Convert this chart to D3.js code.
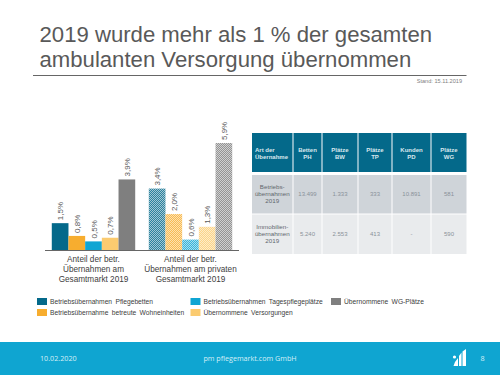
<!DOCTYPE html>
<html>
<head>
<meta charset="utf-8">
<script src="https://cdn.jsdelivr.net/npm/d3@7"></script>
<style>
html, body { margin: 0; padding: 0; background: #fff; }
svg { display: block; font-family: "Liberation Sans", Arial, sans-serif; }
</style>
</head>
<body>
<svg id="chart" width="500" height="375"></svg>
<script>
// chart values
var groupLabels = [
    ["Anteil der betr.", "Übernahmen am", "Gesamtmarkt 2019"],
    ["Anteil der betr.", "Übernahmen am privaten", "Gesamtmarkt 2019"]
];
var seriesNames = [
    "Betriebsübernahmen Pflegebetten",
    "Betriebsübernahme betreute Wohneinheiten",
    "Betriebsübernahmen Tagespflegeplätze",
    "Übernommene Versorgungen",
    "Übernommene WG-Plätze"
];
var gesamtValues = [1.5, 0.8, 0.5, 0.7, 3.9];
var privatValues = [3.4, 2.0, 0.6, 1.3, 5.9];
var seriesColors = ["#04698a", "#f7ad2f", "#0fa5d3", "#fbcb70", "#7f7f7f"];

// table
var tableHead = [["Art der", "Übernahme"], ["Betten", "PH"], ["Plätze", "BW"], ["Plätze", "TP"], ["Kunden", "PD"], ["Plätze", "WG"]];
var tableRowNames = [["Betriebs-", "übernahmen", "2019"], ["Immobilien-", "übernahmen", "2019"]];
var tableBetrieb = ["13.499", "1.333", "333", "10.891", "581"];
var tableImmo = ["5.240", "2.553", "413", "-", "590"];

var svg = d3.select("#chart");
var width = 500, height = 375;
var grey = "#595959";

// title
svg.append("text").attr("x", 39.5).attr("y", 41.7).attr("font-size", 22.15).attr("fill", grey)
    .text("2019 wurde mehr als 1 % der gesamten");
svg.append("text").attr("x", 39.5).attr("y", 66.5).attr("font-size", 22.15).attr("fill", grey)
    .text("ambulanten Versorgung übernommen");
svg.append("line").attr("x1", 33).attr("x2", 466.5).attr("y1", 75.5).attr("y2", 75.5)
    .attr("stroke", "#666").attr("stroke-width", 1);
svg.append("text").attr("x", 462).attr("y", 83).attr("text-anchor", "end")
    .attr("font-size", 5.6).attr("fill", "#7f7f7f").text("Stand: 15.11.2019");

// checker patterns for the second group
var defs = svg.append("defs");
seriesColors.forEach(function(c, i) {
    var p = defs.append("pattern").attr("id", "hatch" + i)
        .attr("width", 2).attr("height", 2).attr("patternUnits", "userSpaceOnUse");
    p.append("rect").attr("width", 2).attr("height", 2).attr("fill", "#fff");
    p.append("rect").attr("width", 1).attr("height", 1).attr("fill", c);
    p.append("rect").attr("x", 1).attr("y", 1).attr("width", 1).attr("height", 1).attr("fill", c);
    p.append("rect").attr("width", 2).attr("height", 2).attr("fill", c).attr("opacity", 0.2);
});

// bars
var baseline = 250.5;
var x0 = d3.scaleBand().domain([0, 1]).range([45, 239]).paddingInner(0.14).paddingOuter(0.07);
var x1 = d3.scaleBand().domain(d3.range(5)).range([0, x0.bandwidth()]);
var y = d3.scaleLinear().domain([0, 5.9]).range([baseline, 143]);

var groups = svg.selectAll("g.group")
    .data([gesamtValues, privatValues])
    .enter().append("g")
    .attr("class", "group")
    .attr("transform", function(d, i) { return "translate(" + x0(i) + ",0)"; });

groups.each(function(values, g) {
    var sel = d3.select(this);
    sel.selectAll("rect").data(values).enter().append("rect")
        .attr("x", function(d, i) { return x1(i); })
        .attr("width", x1.bandwidth())
        .attr("y", function(d) { return y(d); })
        .attr("height", function(d) { return baseline - y(d); })
        .attr("fill", function(d, i) { return g == 0 ? seriesColors[i] : "url(#hatch" + i + ")"; });

    sel.selectAll("text").data(values).enter().append("text")
        .attr("transform", function(d, i) {
            return "translate(" + (x1(i) + x1.bandwidth() / 2 + 3) + "," + (y(d) - 3) + ") rotate(-90)";
        })
        .attr("font-size", 8).attr("fill", grey)
        .text(function(d) { return d.toFixed(1).replace(".", ",") + "%"; });

    sel.selectAll("text.cat").data(groupLabels[g]).enter().append("text")
        .attr("class", "cat")
        .attr("x", x0.bandwidth() / 2)
        .attr("y", function(d, i) { return 261.5 + i * 10.2; })
        .attr("text-anchor", "middle").attr("font-size", 8.2).attr("fill", "#404040")
        .text(function(d) { return d; });
});

svg.append("line").attr("x1", 45).attr("x2", 239).attr("y1", baseline).attr("y2", baseline)
    .attr("stroke", "#666").attr("stroke-width", 1);

// table
var colEdges = [252, 293.5, 322.5, 358.5, 392.5, 431.5, 467.5];
var rowTops = [175, 214.5], rowBottoms = [213.5, 254];
var rowFills = ["#cfd4d9", "#e9ebed"];
var tableText = "#8a9299";

colEdges.slice(0, -1).forEach(function(left, c) {
    var right = colEdges[c + 1];
    var mid = (left + right) / 2;
    svg.append("rect").attr("x", left).attr("y", 133).attr("width", right - left - 1).attr("height", 39)
        .attr("fill", "#04698a");
    svg.selectAll(null).data(tableHead[c]).enter().append("text")
        .attr("x", c == 0 ? left + 3 : mid - 0.5)
        .attr("y", function(d, i) { return 151.5 + i * 7; })
        .attr("text-anchor", c == 0 ? "start" : "middle")
        .attr("font-size", 6).attr("font-weight", "bold").attr("fill", "#d8e8ee")
        .text(function(d) { return d; });

    [tableBetrieb, tableImmo].forEach(function(row, r) {
        svg.append("rect").attr("x", left).attr("y", rowTops[r])
            .attr("width", right - left - 1).attr("height", rowBottoms[r] - rowTops[r])
            .attr("fill", rowFills[r]);
        var cy = (rowTops[r] + rowBottoms[r]) / 2;
        if (c == 0) {
            svg.selectAll(null).data(tableRowNames[r]).enter().append("text")
                .attr("x", mid - 0.5)
                .attr("y", function(d, i) { return cy - 5 + i * 7; })
                .attr("text-anchor", "middle").attr("font-size", 6.2).attr("fill", "#5f676d")
                .text(function(d) { return d; });
        } else {
            svg.append("text").attr("x", mid - 0.5).attr("y", cy + 2)
                .attr("text-anchor", "middle").attr("font-size", 6).attr("fill", tableText)
                .text(row[c - 1]);
        }
    });
});

// legend
var legendX = [37, 37, 190.5, 190.5, 331], legendY = [298, 309, 298, 309, 298];
seriesNames.forEach(function(name, i) {
    svg.append("rect").attr("x", legendX[i]).attr("y", legendY[i]).attr("width", 10).attr("height", 7)
        .attr("fill", seriesColors[i]);
    svg.append("text").attr("x", legendX[i] + 13).attr("y", legendY[i] + 6.3)
        .attr("font-size", 6.7).attr("word-spacing", 1.5).attr("fill", "#404040").text(name);
});

// footer
svg.append("rect").attr("x", 0).attr("y", 342).attr("width", width).attr("height", height - 342)
    .attr("fill", "#0fa5d1");
svg.append("text").attr("x", 40).attr("y", 360.5).attr("font-family", "Open Sans, sans-serif")
    .attr("font-size", 7.2).attr("fill", "#d5eff7").text("10.02.2020");
svg.append("text").attr("x", 250).attr("y", 360.5).attr("text-anchor", "middle").attr("font-family", "Open Sans, sans-serif")
    .attr("font-size", 7.2).attr("fill", "#d5eff7").text("pm pflegemarkt.com GmbH");
svg.append("text").attr("x", 482.5).attr("y", 360.5).attr("text-anchor", "middle").attr("font-family", "Open Sans, sans-serif")
    .attr("font-size", 7.2).attr("fill", "#d5eff7").text("8");

// logo
var logo = svg.append("g").attr("fill", "#fff");
logo.append("circle").attr("cx", 454.5).attr("cy", 357).attr("r", 1.6);
logo.append("path").attr("d", "M453.5 366 L458 366 L458 358 L455 362 Z");
logo.append("path").attr("d", "M459 366 L461.5 366 L461.5 352.5 L459 356 Z");
logo.append("path").attr("d", "M462.5 366 L466 366 L466 349 L462.5 351.5 Z");
</script>
</body>
</html>
